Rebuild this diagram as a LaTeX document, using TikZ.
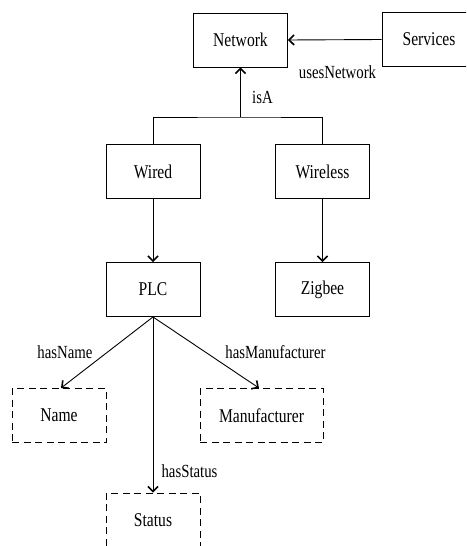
\documentclass[tikz,border=0pt]{standalone}
\usepackage{fontspec}
\setmainfont[FakeStretch=0.8]{Liberation Serif}
\usetikzlibrary{arrows.meta}
\begin{document}
\begin{tikzpicture}[x=1pt,y=-1pt,
  box/.style={draw, line width=0.9pt, minimum width=94pt, minimum height=54pt,
    inner sep=0pt, font=\fontsize{19.5}{21}\selectfont},
  attr/.style={box, dashed, dash pattern=on 7pt off 4.5pt},
  rel/.style={draw, line width=0.9pt, -{Straight Barb[length=5pt,width=10pt,line width=1.6pt]}},
  lbl/.style={font=\fontsize{18.5}{20}\selectfont, inner sep=0pt}]
  \clip (0,0) rectangle (466,546);
  \fill[white] (0,0) rectangle (466,546);

  % classes
  \node[box] (net) at (240.5,40) {Network};
  \node[box] (serv) at (429,39.5) {Services};
  \node[box] (wired) at (153,171.5) {Wired};
  \node[box] (wless) at (322.5,171.5) {Wireless};
  \node[box] (plc) at (153,289.5) {PLC};
  \node[box] (zig) at (322.5,289.5) {Zigbee};

  % attributes
  \node[attr] (name) at (59,415.5) {Name};
  \node[attr, minimum width=123pt] (manu) at (261.5,415.5) {Manufacturer};
  \node[attr] (stat) at (153,520) {Status};

  % isA hierarchy
  \coordinate (join) at (240.5,117);
  \draw[line width=0.9pt] (wired.north) |- (join) -| (wless.north);
  \draw[rel] (join) -- (net.south);
  \node[lbl] at (262.5,97) {isA};

  \draw[rel] (serv.west) -- (net.east);
  \node[lbl] at (337.5,72) {usesNetwork};

  \draw[rel] (wired) -- (plc);
  \draw[rel] (wless) -- (zig);

  % properties of PLC
  \draw[rel] (plc.south) -- (name.north -| 61,0);
  \draw[rel] (plc.south) -- (manu.north -| 259,0);
  \draw[rel] (plc.south) -- (stat.north);
  \node[lbl] at (65,352) {hasName};
  \node[lbl] at (275.5,352) {hasManufacturer};
  \node[lbl] at (189.5,471) {hasStatus};
\end{tikzpicture}
\end{document}
